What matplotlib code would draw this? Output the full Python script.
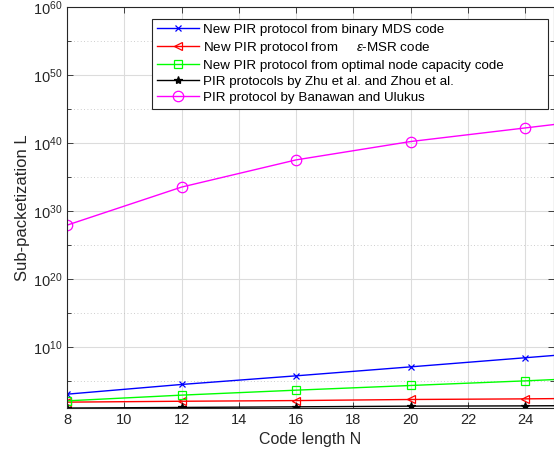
import numpy as np
import matplotlib
matplotlib.use('Agg')
import matplotlib.pyplot as plt
from matplotlib.ticker import FixedLocator, FuncFormatter, NullFormatter

plt.rcParams['font.family'] = ['Liberation Sans', 'DejaVu Sans']
plt.rcParams['mathtext.fontset'] = 'custom'
plt.rcParams['mathtext.rm'] = 'Liberation Sans'
plt.rcParams['mathtext.it'] = 'Liberation Sans:italic'

# code length N (last point lies beyond the visible x range)
N = [8, 12, 16, 20, 24, 28]

# log10 of sub-packetization L
log_mds = [3.04, 4.47, 5.74, 7.06, 8.40, 9.75]
log_msr = [1.87, 2.00, 2.10, 2.26, 2.35, 2.50]
log_onc = [2.06, 2.90, 3.63, 4.32, 5.00, 5.75]
log_zhu = [1.00, 1.09, 1.18, 1.28, 1.32, 1.40]
log_bu = [27.9, 33.5, 37.5, 40.2, 42.2, 44.2]

labels = [
    'New PIR protocol from binary MDS code',
    'New PIR protocol from     $\\epsilon$-MSR code',
    'New PIR protocol from optimal node capacity code',
    'PIR protocols by Zhu et al. and Zhou et al.',
    'PIR protocol by Banawan and Ulukus',
]

fig = plt.figure(figsize=(5.54, 4.59), dpi=100)
ax = fig.add_axes([0.121, 0.111, 0.879, 0.874])

series = [
    (log_mds, '#0000ff', 'x', 5, '#0000ff'),
    (log_msr, '#ff0000', '<', 6, 'none'),
    (log_onc, '#00ff00', 's', 5.5, 'none'),
    (log_zhu, '#000000', '*', 6, '#000000'),
    (log_bu, '#ff00ff', 'o', 7.5, 'none'),
]
for (vals, c, m, ms, fc), lab in zip(series, labels):
    ax.plot(N, 10.0 ** np.array(vals), color=c, marker=m, ms=ms, mfc=fc,
            mec=c, mew=0.9, lw=1.0, label=lab)

ax.set_yscale('log')
ax.set_xlim(8, 25)
ax.set_ylim(1e1, 1e60)
ax.set_xticks(range(8, 25, 2))

major = [10.0 ** e for e in range(10, 61, 10)]
minor = [10.0 ** e for e in range(5, 60, 10)]
ax.yaxis.set_major_locator(FixedLocator(major))
ax.yaxis.set_minor_locator(FixedLocator(minor))
ax.yaxis.set_major_formatter(
    FuncFormatter(lambda v, p: '10$^{%d}$' % round(np.log10(v))))
ax.yaxis.set_minor_formatter(NullFormatter())

ax.grid(True, which='major', color='#dcdcdc', lw=0.8)
ax.grid(True, which='minor', axis='y', color='#bdbdbd', lw=0.6, ls=(0, (1, 3)))
ax.set_axisbelow(True)

for s in ax.spines.values():
    s.set_color('#262626')
    s.set_linewidth(0.8)
ax.tick_params(which='both', direction='in', top=True, right=True,
               colors='#262626', labelsize=10.5, width=0.6)
ax.tick_params(which='major', length=4)
ax.tick_params(which='minor', length=3)

ax.set_xlabel('Code length N', fontsize=11.5, color='#262626')
ax.set_ylabel('Sub-packetization L', fontsize=12, color='#262626', labelpad=2)

leg = ax.legend(loc='upper left', bbox_to_anchor=(0.1745, 0.5, 0.8135, 0.47),
                mode='expand', fontsize=9.6,
                fancybox=False, framealpha=1, edgecolor='#262626',
                handlelength=3.2, handletextpad=0.25, borderpad=0.35,
                labelspacing=0.28, borderaxespad=0.0)
leg.get_frame().set_linewidth(0.8)

fig.savefig('out.png', dpi=100)
plt.close(fig)
